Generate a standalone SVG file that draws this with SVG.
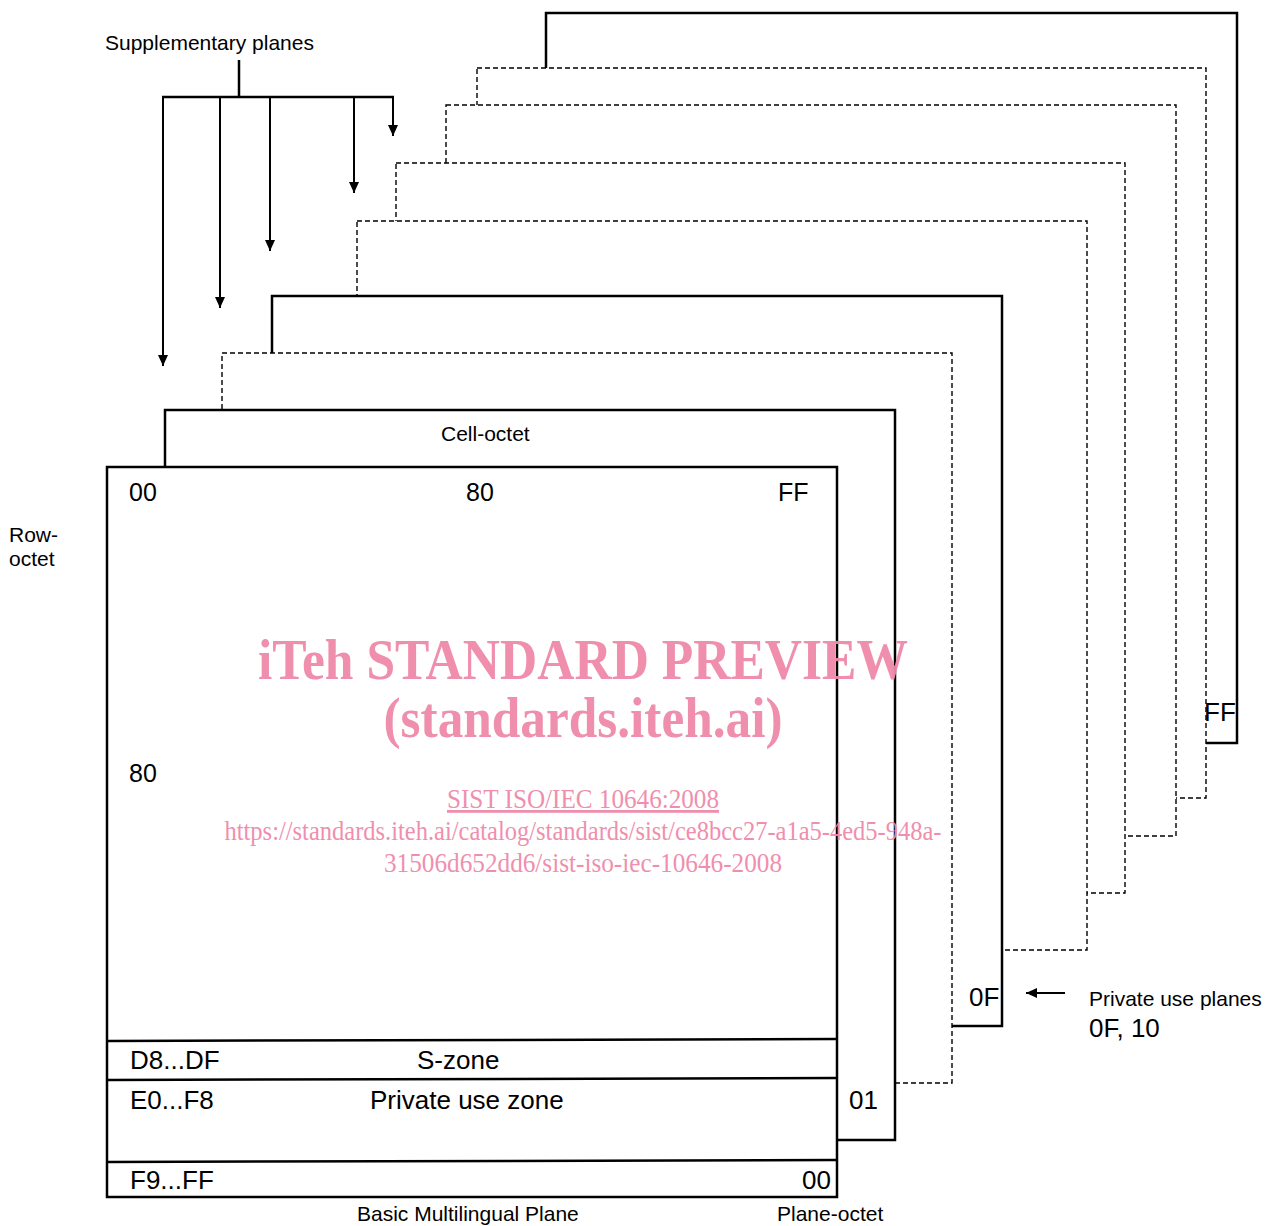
<svg xmlns="http://www.w3.org/2000/svg" width="1267" height="1226" viewBox="0 0 1267 1226">
<defs>
<style>
.solid{fill:#fff;stroke:#000;stroke-width:2.5}
.dash{fill:#fff;stroke:#000;stroke-width:1.4;stroke-dasharray:5,3}
.s{font-family:"Liberation Sans",Arial,sans-serif;font-size:21px;fill:#000}
.b{font-family:"Liberation Sans",Arial,sans-serif;font-size:25px;fill:#000}
.z{font-family:"Liberation Sans",Arial,sans-serif;font-size:26px;fill:#000}
.wm{font-family:"Liberation Serif","Times New Roman",serif;fill:#ef8aa9;text-anchor:middle}
.conn{stroke:#000;fill:none}
</style>
<marker id="ah" viewBox="0 0 11 10" refX="11" refY="5" markerWidth="11" markerHeight="10" markerUnits="userSpaceOnUse" orient="auto">
<path d="M0,0 L11,5 L0,10 z" fill="#000"/>
</marker>
</defs>
<rect width="1267" height="1226" fill="#fff"/>

<g id="plane-10">
<rect class="solid" x="546" y="13" width="691" height="730"/>
</g>
<g id="plane-0e">
<rect class="dash" x="477" y="68" width="729" height="730"/>
</g>
<g id="plane-0d">
<rect class="dash" x="446" y="105" width="730" height="731"/>
</g>
<g id="plane-0c">
<rect class="dash" x="396" y="163" width="729" height="730"/>
</g>
<g id="plane-0b">
<rect class="dash" x="357" y="221" width="730" height="729"/>
</g>
<g id="plane-0f">
<rect class="solid" x="272" y="296" width="730" height="730"/>
<text class="z" x="969" y="1006">0F</text>
</g>
<g id="plane-02">
<rect class="dash" x="222" y="353" width="730" height="730"/>
</g>
<g id="plane-01">
<rect class="solid" x="165" y="410" width="730" height="730"/>
<text class="s" x="441" y="441">Cell-octet</text>
<text class="z" x="849" y="1109">01</text>
</g>
<g id="plane-00">
<rect class="solid" x="107" y="467" width="730" height="730"/>
<line x1="108" y1="1041" x2="836" y2="1039" stroke="#000" stroke-width="2.5"/>
<line x1="108" y1="1080" x2="836" y2="1078" stroke="#000" stroke-width="2.5"/>
<line x1="108" y1="1162" x2="836" y2="1160" stroke="#000" stroke-width="2.5"/>
<text class="b" x="129" y="501">00</text>
<text class="b" x="466" y="501">80</text>
<text class="b" x="778" y="501">FF</text>
<text class="b" x="129" y="782">80</text>
<text class="z" x="130" y="1069">D8...DF</text>
<text class="z" x="417" y="1069">S-zone</text>
<text class="z" x="130" y="1109">E0...F8</text>
<text class="z" x="370" y="1109">Private use zone</text>
<text class="z" x="130" y="1189">F9...FF</text>
<text class="z" x="831" y="1189" text-anchor="end">00</text>
</g>

<g id="labels">
<text class="z" x="1204" y="721">FF</text>
<text class="s" x="105" y="50">Supplementary planes</text>
<text class="s" x="9" y="542">Row-</text>
<text class="s" x="9" y="566">octet</text>
<text class="s" x="357" y="1221">Basic Multilingual Plane</text>
<text class="s" x="777" y="1221">Plane-octet</text>
<text class="s" x="1089" y="1006">Private use planes</text>
<text class="z" x="1089" y="1037">0F, 10</text>
</g>

<g id="connectors">
<line class="conn" x1="239" y1="60" x2="239" y2="97" stroke-width="2.5"/>
<line class="conn" x1="162" y1="97" x2="394" y2="97" stroke-width="2.5"/>
<line class="conn" x1="163" y1="96" x2="163" y2="366" stroke-width="2" marker-end="url(#ah)"/>
<line class="conn" x1="220" y1="97" x2="220" y2="308" stroke-width="2" marker-end="url(#ah)"/>
<line class="conn" x1="270" y1="97" x2="270" y2="251" stroke-width="2" marker-end="url(#ah)"/>
<line class="conn" x1="354" y1="97" x2="354" y2="193" stroke-width="2" marker-end="url(#ah)"/>
<line class="conn" x1="393" y1="96" x2="393" y2="136" stroke-width="2" marker-end="url(#ah)"/>
<line class="conn" x1="1065" y1="993" x2="1026" y2="993" stroke-width="1.8" marker-end="url(#ah)"/>
</g>

<g id="watermark" opacity="0.95">
<text class="wm" x="583" y="679" font-size="56" font-weight="bold" textLength="650" lengthAdjust="spacingAndGlyphs">iTeh STANDARD PREVIEW</text>
<text class="wm" x="583" y="737" font-size="56" font-weight="bold" textLength="399" lengthAdjust="spacingAndGlyphs">(standards.iteh.ai)</text>
<text class="wm" x="583" y="808" font-size="28" textLength="272" lengthAdjust="spacingAndGlyphs" text-decoration="underline">SIST ISO/IEC 10646:2008</text>
<text class="wm" x="583" y="840" font-size="28" textLength="717" lengthAdjust="spacingAndGlyphs">https://standards.iteh.ai/catalog/standards/sist/ce8bcc27-a1a5-4ed5-948a-</text>
<text class="wm" x="583" y="872" font-size="28" textLength="398" lengthAdjust="spacingAndGlyphs">31506d652dd6/sist-iso-iec-10646-2008</text>
</g>
</svg>
